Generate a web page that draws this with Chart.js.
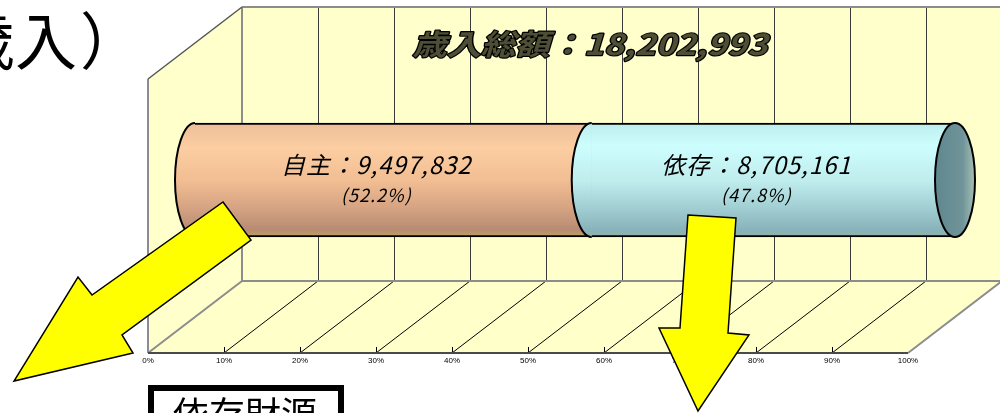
<!DOCTYPE html>
<html lang="ja">
<head>
<meta charset="utf-8">
<script src="https://cdn.jsdelivr.net/npm/chart.js@4.4.1/dist/chart.umd.min.js"></script>
<style>
  html, body { margin: 0; padding: 0; background: #fff; }
  #wrap { width: 1000px; height: 413px; position: relative; overflow: hidden; }
  canvas { display: block; }
</style>
</head>
<body>
<div id="wrap"><canvas id="revenue" width="1000" height="413"></canvas></div>
<script>
// 歳入の内訳（自主財源 / 依存財源）
const categories = ['歳入'];
const seriesNames = ['自主', '依存'];
const selfShare = [52.2];       // %
const dependShare = [47.8];     // %
const selfAmount = [9497832];
const dependAmount = [8705161];
const totalAmount = 18202993;
const tickLabels = ['0%', '10%', '20%', '30%', '40%', '50%', '60%', '70%', '80%', '90%', '100%'];

// 3D look: depth of the box and of the cylinder
const DEPTH_X = 94, DEPTH_Y = -72;
const BAR_H = 114, CAP_RX = 20;
const JP = "'Noto Sans CJK JP', 'Noto Sans', sans-serif";

const orangeStops = [[0, '#EDBE9A'], [0.22, '#FCCEA2'], [0.5, '#F2BE93'], [0.72, '#D9A685'], [0.94, '#B78B72'], [1, '#BFA35E']];
const blueStops = [[0, '#BDEDEE'], [0.2, '#CDFEFE'], [0.5, '#C0EDEE'], [0.74, '#A2CFD3'], [0.94, '#88B2BA'], [1, '#94B2A6']];

function grad(ctx, top, bottom, stops) {
  const g = ctx.createLinearGradient(0, top, 0, bottom);
  stops.forEach(s => g.addColorStop(s[0], s[1]));
  return g;
}

function cylFill(stops) {
  return function (c) {
    const chart = c.chart;
    if (!chart.chartArea) return stops[1][1];
    const mid = chart.scales.y.getPixelForValue(0);
    return grad(chart.ctx, mid - BAR_H / 2, mid + BAR_H / 2, stops);
  };
}

function line(ctx, x1, y1, x2, y2) {
  ctx.beginPath();
  ctx.moveTo(x1, y1);
  ctx.lineTo(x2, y2);
  ctx.stroke();
}

function poly(ctx, pts) {
  ctx.beginPath();
  pts.forEach((p, i) => i ? ctx.lineTo(p[0], p[1]) : ctx.moveTo(p[0], p[1]));
  ctx.closePath();
}

const boxPlugin = {
  id: 'box3d',
  beforeDraw(chart) {
    const { ctx, chartArea: a, scales: { x } } = chart;
    const W = chart.width;
    const x0 = x.getPixelForValue(0), x1 = x.getPixelForValue(100);
    const bt = a.top + DEPTH_Y, bb = a.bottom + DEPTH_Y;
    ctx.save();
    ctx.fillStyle = '#fff';
    ctx.fillRect(0, 0, W, chart.height);

    // walls + floor
    ctx.fillStyle = '#FFFFCC';
    ctx.fillRect(x0 + DEPTH_X, bt, W - x0 - DEPTH_X, bb - bt);
    poly(ctx, [[x0, a.top], [x0 + DEPTH_X, bt], [x0 + DEPTH_X, bb], [x0, a.bottom]]);
    ctx.fill();
    ctx.fillStyle = '#FFFFC9';
    poly(ctx, [[x0, a.bottom], [x1, a.bottom], [x1 + DEPTH_X, bb], [x0 + DEPTH_X, bb]]);
    ctx.fill();

    // gridlines on the back wall and floor
    ctx.lineWidth = 1;
    ctx.strokeStyle = '#3a3a3a';
    for (let v = 10; v <= 100; v += 10) {
      const px = Math.round(x.getPixelForValue(v) + DEPTH_X) + 0.5;
      line(ctx, px, bt, px, bb);
    }
    ctx.strokeStyle = '#000';
    for (let v = 10; v < 100; v += 10) {
      const px = x.getPixelForValue(v);
      line(ctx, px, a.bottom, px + DEPTH_X, bb);
      line(ctx, Math.round(px) + 0.5, a.bottom, Math.round(px) + 0.5, a.bottom - 6);
    }

    // box outlines
    ctx.strokeStyle = '#8c8c8c';
    ctx.lineWidth = 2;
    line(ctx, x0 + DEPTH_X, bt, W, bt);
    line(ctx, x0 + DEPTH_X, bt, x0 + DEPTH_X, bb);
    line(ctx, x0 + DEPTH_X, bb, W, bb);
    line(ctx, x0, a.top, x0, a.bottom);
    line(ctx, x0, a.bottom, x0 + DEPTH_X, bb);
    line(ctx, x1, a.bottom, x1 + DEPTH_X, bb);
    ctx.strokeStyle = '#555';
    ctx.lineWidth = 1.5;
    line(ctx, x0, a.top, x0 + DEPTH_X, bt);
    ctx.lineWidth = 2;
    ctx.strokeStyle = '#4a4a4a';
    line(ctx, x0, a.bottom, x1, a.bottom);

    // total title on the back wall
    const title = '歳入総額：' + totalAmount.toLocaleString('en-US');
    ctx.font = 'italic bold 32px ' + JP;
    ctx.textBaseline = 'middle';
    ctx.textAlign = 'center';
    const tw = ctx.measureText(title).width;
    ctx.translate(x.getPixelForValue(50) + 62, 44);
    ctx.scale(355 / tw, 0.9);
    ctx.lineJoin = 'round';
    ctx.lineWidth = 2.5;
    ctx.strokeStyle = '#000';
    ctx.strokeText(title, 0, 0);
    ctx.fillStyle = '#4e4e36';
    ctx.fillText(title, 0, 0);
    ctx.restore();
  },
  beforeDatasetsDraw(chart) {
    chart.ctx.save();
    chart.ctx.translate(DEPTH_X / 2, DEPTH_Y / 2);
  },
  afterDatasetsDraw(chart) {
    const ctx = chart.ctx;
    const segs = [chart.getDatasetMeta(0).data[0], chart.getDatasetMeta(1).data[0]];
    const stops = [orangeStops, blueStops];
    ctx.lineWidth = 2;
    ctx.strokeStyle = '#000';
    segs.forEach((bar, i) => {
      const ry = bar.height / 2;
      ctx.fillStyle = grad(ctx, bar.y - ry, bar.y + ry, stops[i]);
      ctx.beginPath();
      ctx.ellipse(bar.base, bar.y, CAP_RX, ry, 0, Math.PI / 2, Math.PI * 1.5);
      ctx.closePath();
      ctx.fill();
      ctx.beginPath();
      ctx.ellipse(bar.base, bar.y, CAP_RX, ry, 0, Math.PI / 2, Math.PI * 1.5);
      ctx.stroke();
    });
    // right end cap
    const end = segs[1];
    const cg = ctx.createLinearGradient(end.x - CAP_RX, 0, end.x + CAP_RX, 0);
    cg.addColorStop(0, '#5F878E');
    cg.addColorStop(0.7, '#6F959A');
    cg.addColorStop(1, '#A9C2B4');
    ctx.fillStyle = cg;
    ctx.beginPath();
    ctx.ellipse(end.x, end.y, CAP_RX, end.height / 2, 0, 0, Math.PI * 2);
    ctx.fill();
    ctx.stroke();

    // labels inside the cylinder
    const amounts = [selfAmount[0], dependAmount[0]];
    const shares = [selfShare[0], dependShare[0]];
    ctx.fillStyle = '#000';
    ctx.textAlign = 'center';
    ctx.textBaseline = 'middle';
    segs.forEach((bar, i) => {
      const cx = (bar.base + bar.x) / 2 - 17;
      ctx.font = 'italic 24px ' + JP;
      ctx.letterSpacing = '1px';
      ctx.fillText(seriesNames[i] + '：' + amounts[i].toLocaleString('en-US'), cx, bar.y - 15);
      ctx.font = 'italic 18px ' + JP;
      ctx.fillText('(' + shares[i].toFixed(1) + '%)', cx, bar.y + 15);
    });
    ctx.letterSpacing = '0px';
    ctx.restore();
  },
  afterDraw(chart) {
    const ctx = chart.ctx;
    ctx.save();
    // yellow arrows
    ctx.fillStyle = '#FFFF00';
    ctx.strokeStyle = '#000';
    ctx.lineWidth = 1.5;
    ctx.lineJoin = 'miter';
    poly(ctx, [[223, 202], [251, 240], [122, 335], [133, 353], [14, 381], [78, 277], [92, 295]]);
    ctx.fill(); ctx.stroke();
    poly(ctx, [[688, 215], [736, 218], [728, 333], [749, 335], [698, 411], [659, 328], [680, 328]]);
    ctx.fill(); ctx.stroke();

    // heading fragment and boxed caption
    ctx.fillStyle = '#000';
    ctx.textAlign = 'left';
    ctx.textBaseline = 'alphabetic';
    ctx.font = '62px ' + JP;
    ctx.fillText('歳入', 77 - ctx.measureText('歳入').width, 65);
    ctx.fillText('）', 80, 65);
    ctx.lineWidth = 6;
    ctx.strokeRect(151, 388, 190, 60);
    ctx.font = '36px ' + JP;
    ctx.fillText('依存財源', 173, 428);
    ctx.restore();
  }
};

new Chart(document.getElementById('revenue'), {
  type: 'bar',
  data: {
    labels: categories,
    datasets: [
      {
        label: seriesNames[0],
        data: selfShare,
        backgroundColor: cylFill(orangeStops),
        borderColor: '#000',
        borderWidth: { top: 2, bottom: 2, left: 0, right: 0 },
        borderSkipped: false,
        barThickness: BAR_H,
        clip: false
      },
      {
        label: seriesNames[1],
        data: dependShare,
        backgroundColor: cylFill(blueStops),
        borderColor: '#000',
        borderWidth: { top: 2, bottom: 2, left: 0, right: 0 },
        borderSkipped: false,
        barThickness: BAR_H,
        clip: false
      }
    ]
  },
  options: {
    indexAxis: 'y',
    responsive: false,
    animation: false,
    devicePixelRatio: 1,
    layout: { padding: { left: 148, right: 92, top: 79, bottom: 40 } },
    plugins: {
      legend: { display: false },
      tooltip: { enabled: false }
    },
    scales: {
      x: {
        stacked: true,
        min: 0,
        max: 100,
        ticks: {
          stepSize: 10,
          autoSkip: false,
          maxRotation: 0,
          padding: 3,
          color: '#000',
          font: { size: 8, family: "'Liberation Sans', Arial, sans-serif" },
          callback: (v, i) => tickLabels[i]
        },
        grid: { display: false, drawTicks: false },
        border: { display: false },
        afterFit: s => { s.height = 20; }
      },
      y: { stacked: true, display: false }
    }
  },
  plugins: [boxPlugin]
});
</script>
</body>
</html>
